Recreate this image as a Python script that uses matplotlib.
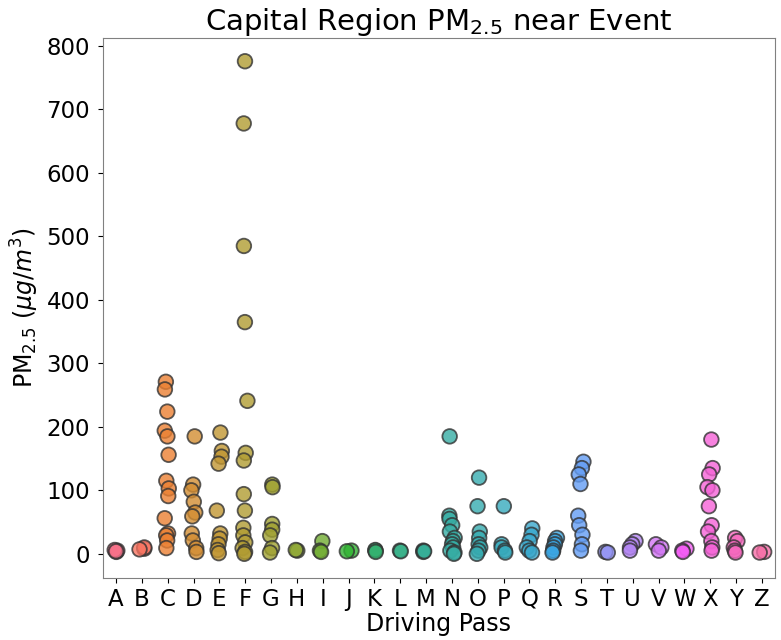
import numpy as np
import pandas as pd
import seaborn as sns
import matplotlib
matplotlib.use("Agg")
import matplotlib.pyplot as plt

passes = list("ABCDEFGHIJKLMNOPQRSTUVWXYZ")

# PM2.5 readings per driving pass
pm = {
    "A": [3, 5, 6, 4],
    "B": [8, 10, 7],
    "C": [271, 259, 224, 194, 185, 156, 115, 103, 91, 56, 32, 29, 21, 9],
    "D": [185, 109, 100, 82, 65, 59, 32, 21, 9, 3],
    "E": [191, 162, 153, 142, 68, 32, 24, 15, 6, 1],
    "F": [776, 678, 485, 365, 241, 159, 147, 94, 68, 41, 29, 18, 9, 3, 0],
    "G": [109, 105, 47, 38, 29, 9, 2],
    "H": [5, 6],
    "I": [20, 5, 3],
    "J": [5, 4],
    "K": [5, 6, 3],
    "L": [5, 4],
    "M": [5, 3, 4],
    "N": [185, 60, 55, 45, 35, 25, 20, 15, 10, 5, 2, 0],
    "O": [120, 75, 35, 25, 15, 10, 5, 0],
    "P": [75, 15, 10, 5, 2],
    "Q": [40, 30, 20, 10, 5, 2],
    "R": [25, 20, 15, 10, 5, 2],
    "S": [145, 135, 125, 110, 60, 45, 30, 15, 5],
    "T": [3, 2],
    "U": [20, 15, 10, 5],
    "V": [15, 10, 5],
    "W": [8, 5, 3],
    "X": [180, 135, 125, 105, 100, 75, 45, 35, 20, 10, 5],
    "Y": [25, 20, 10, 5, 2],
    "Z": [3, 2],
}

rows = [(p, v) for p in passes for v in pm[p]]
df = pd.DataFrame(rows, columns=["pass", "pm25"])

np.random.seed(3)
fig, ax = plt.subplots(figsize=(7.81, 6.4), dpi=100)
sns.stripplot(data=df, x="pass", y="pm25", hue="pass", order=passes,
              palette=sns.color_palette("husl", 26), jitter=0.12, size=10.5,
              alpha=0.8, edgecolor="0.2", linewidth=1.3, legend=False, ax=ax)

ax.set_xlim(-0.5, 25.5)
ax.set_ylim(-38, 813)
ax.set_yticks(range(0, 801, 100))
ax.tick_params(labelsize=16.5)
ax.tick_params(axis="y", pad=6)
ax.set_title("Capital Region PM$_{2.5}$ near Event", fontsize=21, pad=4)
ax.set_xlabel("Driving Pass", fontsize=17, labelpad=1)
ax.set_ylabel("PM$_{2.5}$ ($\\mu g/m^3$)", fontsize=17, labelpad=4)
for s in ax.spines.values():
    s.set_color("0.5")

plt.subplots_adjust(left=0.132, right=0.992, top=0.941, bottom=0.097)
plt.savefig("out.png", dpi=100)
